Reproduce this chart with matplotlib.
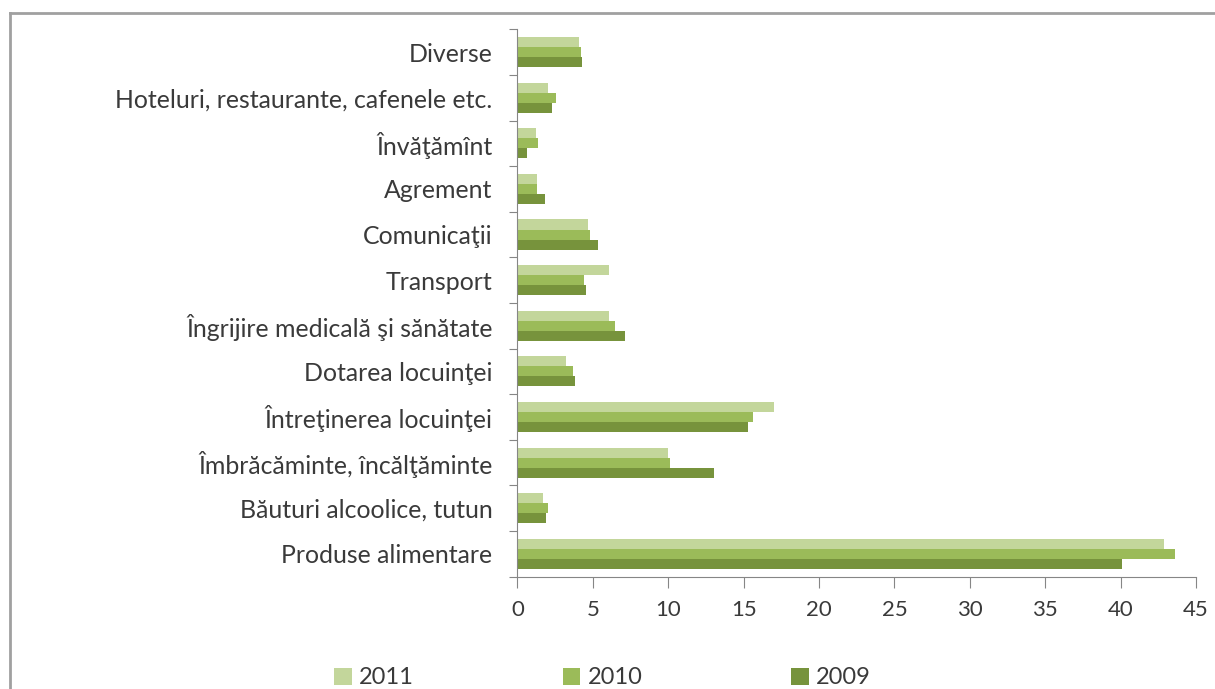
import matplotlib.pyplot as plt
import numpy as np
from matplotlib.lines import Line2D

plt.rcParams['font.family'] = ['Lato', 'DejaVu Sans']

# categorii (de jos in sus) si ponderi (%)
categories = ['Produse alimentare', 'Băuturi alcoolice, tutun',
              'Îmbrăcăminte, încălţăminte', 'Întreţinerea locuinţei',
              'Dotarea locuinţei', 'Îngrijire medicală şi sănătate',
              'Transport', 'Comunicaţii', 'Agrement', 'Învăţămînt',
              'Hoteluri, restaurante, cafenele etc.', 'Diverse']
v2011 = [42.9, 1.7, 10.0, 17.0, 3.2, 6.1, 6.1, 4.65, 1.3, 1.2, 2.0, 4.05]
v2010 = [43.6, 2.0, 10.1, 15.6, 3.7, 6.45, 4.4, 4.8, 1.3, 1.35, 2.55, 4.2]
v2009 = [40.1, 1.9, 13.0, 15.3, 3.8, 7.1, 4.55, 5.35, 1.85, 0.6, 2.3, 4.3]
years = ['2011', '2010', '2009']
colors = ['#c3d69b', '#9bbb59', '#77933c']

fig = plt.figure(figsize=(12.15, 6.89), dpi=100)
ax = fig.add_axes([0.4259, 0.1631, 0.5585, 0.7944])

y = np.arange(len(categories))
h = 0.22
for k, vals in enumerate([v2011, v2010, v2009]):
    ax.barh(y + (1 - k) * h, vals, h, color=colors[k], label=years[k])

txt = '#3a3a3a'
ax.set_xlim(0, 45)
ax.set_ylim(-0.5, len(categories) - 0.5)
ax.set_xticks(np.arange(0, 46, 5))
ax.set_yticks(np.arange(-0.5, len(categories), 1))
ax.set_yticklabels([])
ax.set_yticks(y, minor=True)
ax.set_yticklabels(categories, minor=True)
ax.tick_params(axis='y', which='minor', length=0, pad=18, labelsize=17.9, labelcolor=txt)
ax.tick_params(axis='y', which='major', length=6, color='#868686')
ax.tick_params(axis='x', length=8, color='#868686', labelsize=16, labelcolor=txt, pad=9)
for s in ['top', 'right']:
    ax.spines[s].set_visible(False)
for s in ['left', 'bottom']:
    ax.spines[s].set_color('#868686')

# chenarul graficului
fig.add_artist(Line2D([10 / 1215, 1], [1 - 13 / 689, 1 - 13 / 689], color='#a0a0a0', lw=2))
fig.add_artist(Line2D([10 / 1215, 10 / 1215], [0, 1 - 13 / 689], color='#a0a0a0', lw=2))

fig.legend(loc='center left', bbox_to_anchor=(313 / 1215, 1 - 678 / 689), ncol=3,
           frameon=False, fontsize=17, handlelength=0.75, handleheight=0.75,
           handletextpad=0.3, columnspacing=6.3, labelcolor=txt)

fig.savefig('out.png', dpi=100)
